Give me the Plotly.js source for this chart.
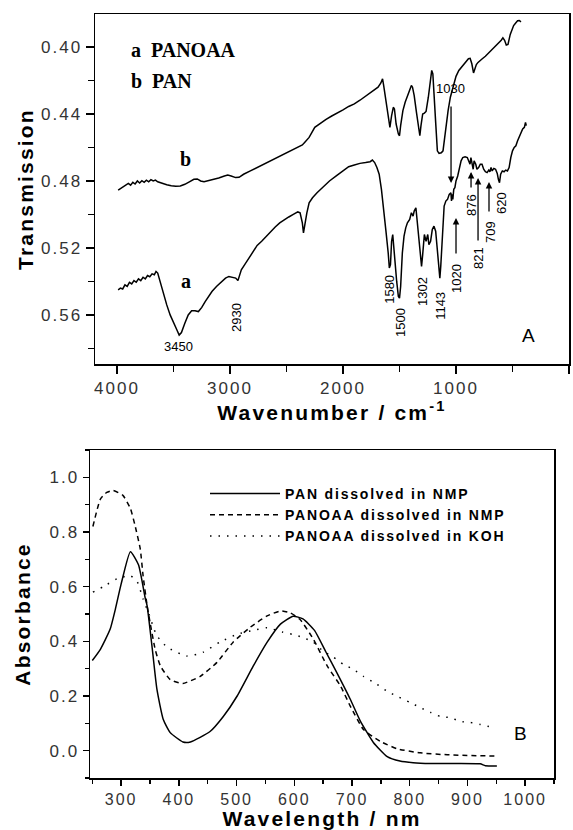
<!DOCTYPE html>
<html>
<head>
<meta charset="utf-8">
<script src="https://cdn.plot.ly/plotly-3.0.1.min.js"></script>
<style>
html,body{margin:0;padding:0;background:#fff;}
#chart{width:573px;height:830px;}
.js-plotly-plot .plotly text.xtitle, .js-plotly-plot .plotly text.x2title,
.js-plotly-plot .plotly text.ytitle, .js-plotly-plot .plotly text.y2title {letter-spacing:2.2px !important;}
.js-plotly-plot .plotly text.ytitle {translate:-5px 0;}
.js-plotly-plot .plotly text.y2title {translate:-15px 0;}
.js-plotly-plot .plotly g.xtick text, .js-plotly-plot .plotly g.ytick text,
.js-plotly-plot .plotly g.x2tick text, .js-plotly-plot .plotly g.y2tick text {letter-spacing:2px !important;}
.js-plotly-plot .plotly .legend text.legendtext {letter-spacing:1.8px !important;}
.js-plotly-plot .plotly .legend .scrollbox {clip-path:none !important;}
</style>
</head>
<body>
<div id="chart"></div>
<script>
// ---------- Panel A: FTIR (wavenumber cm-1, transmission) ----------
const panWn = [3990,3960,3930,3900,3880,3860,3840,3820,3800,3780,3760,3740,3720,3700,3680,3660,3640,3600,3560,3520,3480,3440,3400,3360,3320,3290,3260,3230,3200,3150,3100,3050,3020,2990,2950,2920,2880,2820,2760,2700,2640,2580,2520,2460,2400,2360,2340,2300,2250,2200,2150,2100,2050,2000,1950,1900,1850,1800,1760,1720,1690,1665,1650,1640,1620,1600,1585,1570,1555,1545,1530,1510,1500,1490,1470,1450,1420,1395,1385,1370,1350,1330,1320,1310,1295,1280,1265,1245,1230,1215,1205,1195,1180,1165,1150,1130,1115,1100,1085,1070,1050,1030,1000,975,950,930,910,890,875,860,845,832,820,805,790,770,740,710,680,660,640,620,600,585,570,555,540,520,505,490,470,455,440,425];
const panT  = [0.4855,0.4840,0.4830,0.4815,0.4825,0.4808,0.4818,0.4800,0.4812,0.4798,0.4808,0.4795,0.4805,0.4792,0.4800,0.4795,0.4805,0.4815,0.4822,0.4828,0.4832,0.4830,0.4820,0.4805,0.4790,0.4788,0.4800,0.4805,0.4800,0.4790,0.4782,0.4770,0.4765,0.4770,0.4780,0.4778,0.4760,0.4740,0.4720,0.4700,0.4680,0.4662,0.4640,0.4620,0.4600,0.4585,0.4570,0.4540,0.4480,0.4455,0.4432,0.4412,0.4395,0.4375,0.4355,0.4340,0.4318,0.4295,0.4275,0.4255,0.4240,0.4215,0.4190,0.4230,0.4330,0.4420,0.4480,0.4410,0.4360,0.4370,0.4460,0.4520,0.4530,0.4470,0.4380,0.4330,0.4280,0.4230,0.4240,0.4290,0.4390,0.4490,0.4530,0.4470,0.4400,0.4395,0.4385,0.4300,0.4200,0.4140,0.4160,0.4300,0.4450,0.4620,0.4635,0.4632,0.4620,0.4540,0.4450,0.4380,0.4300,0.4245,0.4175,0.4140,0.4120,0.4100,0.4088,0.4070,0.4068,0.4100,0.4155,0.4130,0.4105,0.4092,0.4085,0.4072,0.4055,0.4035,0.4015,0.4003,0.3992,0.3975,0.3960,0.3945,0.3960,0.3988,0.3985,0.3925,0.3893,0.3872,0.3855,0.3843,0.3842,0.3850];

const panoaaWn = [3990,3970,3950,3930,3910,3890,3870,3850,3830,3810,3790,3770,3750,3730,3710,3690,3670,3655,3640,3620,3590,3560,3530,3500,3470,3450,3430,3400,3370,3340,3310,3280,3250,3220,3190,3160,3120,3080,3040,3010,2980,2950,2930,2915,2900,2870,2840,2800,2760,2720,2680,2640,2600,2560,2520,2480,2440,2400,2380,2360,2350,2340,2320,2300,2270,2230,2180,2120,2060,2000,1950,1900,1850,1800,1760,1740,1720,1700,1680,1660,1640,1620,1600,1590,1580,1570,1560,1550,1540,1525,1510,1500,1490,1475,1460,1445,1430,1410,1395,1380,1370,1355,1340,1320,1305,1295,1280,1265,1250,1240,1225,1210,1195,1180,1165,1150,1143,1135,1120,1105,1090,1075,1060,1045,1040,1035,1028,1020,1010,1000,985,970,955,940,920,900,885,876,868,858,848,840,825,815,800,785,770,755,740,725,710,700,690,680,665,650,635,625,615,605,590,575,560,545,530,515,500,485,470,455,440,425,410,395,385,378];
const panoaaT  = [0.5450,0.5440,0.5445,0.5420,0.5430,0.5405,0.5415,0.5395,0.5405,0.5385,0.5395,0.5375,0.5385,0.5365,0.5372,0.5355,0.5360,0.5340,0.5350,0.5400,0.5470,0.5540,0.5600,0.5650,0.5690,0.5720,0.5705,0.5650,0.5600,0.5575,0.5575,0.5580,0.5555,0.5520,0.5490,0.5460,0.5430,0.5405,0.5380,0.5370,0.5375,0.5380,0.5395,0.5360,0.5330,0.5300,0.5270,0.5230,0.5185,0.5160,0.5130,0.5100,0.5075,0.5050,0.5030,0.5015,0.5000,0.4985,0.4990,0.5050,0.5110,0.5060,0.4990,0.4930,0.4900,0.4870,0.4840,0.4800,0.4770,0.4740,0.4715,0.4705,0.4695,0.4690,0.4685,0.4675,0.4690,0.4720,0.4760,0.4850,0.4960,0.5100,0.5230,0.5320,0.5300,0.5160,0.5120,0.5180,0.5280,0.5400,0.5490,0.5500,0.5430,0.5230,0.5130,0.5080,0.5050,0.5030,0.4990,0.5010,0.4980,0.4960,0.5080,0.5240,0.5310,0.5240,0.5120,0.5160,0.5120,0.5180,0.5160,0.5090,0.5070,0.5100,0.5230,0.5350,0.5380,0.5310,0.5100,0.4950,0.4920,0.4910,0.4880,0.4870,0.4920,0.4880,0.4910,0.4850,0.4840,0.4800,0.4770,0.4720,0.4680,0.4660,0.4655,0.4660,0.4680,0.4700,0.4660,0.4690,0.4730,0.4680,0.4700,0.4730,0.4720,0.4700,0.4700,0.4730,0.4745,0.4750,0.4735,0.4745,0.4720,0.4740,0.4725,0.4730,0.4755,0.4790,0.4810,0.4760,0.4740,0.4745,0.4735,0.4740,0.4720,0.4660,0.4620,0.4600,0.4590,0.4560,0.4540,0.4510,0.4490,0.4480,0.4450,0.4470];

const bandLabels = [
  {wn:3460, t:0.579,  text:'3450', rot:0},
  {wn:2938, t:0.5618, text:'2930', rot:-90},
  {wn:1584, t:0.545,  text:'1580', rot:-90},
  {wn:1487, t:0.5642, text:'1500', rot:-90},
  {wn:1292, t:0.5463, text:'1302', rot:-90},
  {wn:1133, t:0.5546, text:'1143', rot:-90},
  {wn:991,  t:0.5385, text:'1020', rot:-90},
  {wn:805,  t:0.526,  text:'821',  rot:-90},
  {wn:858,  t:0.4943, text:'876',  rot:-90},
  {wn:699,  t:0.5105, text:'709',  rot:-90},
  {wn:593,  t:0.4931, text:'620',  rot:-90},
  {wn:1050, t:0.425,  text:'1030', rot:0}
];
// arrow heads (wavenumber, transmission) with tail offsets in px
const bandArrows = [
  {wn:1044, t:0.4812, ay:-78},
  {wn:1000, t:0.5021, ay:37},
  {wn:867,  t:0.4746, ay:17},
  {wn:805,  t:0.4782, ay:64},
  {wn:708,  t:0.4806, ay:31}
];

// ---------- Panel B: UV-vis (wavelength nm, absorbance) ----------
const panNmpNm = [250,264,281,290,300,316,330,342,345,354,362,373,385,407,420,454,477,501,529,553,576,598,615,635,655,675,697,714,737,761,783,806,836,922,931,951];
const panNmpA  = [0.330,0.371,0.445,0.518,0.610,0.728,0.680,0.555,0.530,0.371,0.224,0.114,0.066,0.032,0.032,0.070,0.125,0.200,0.310,0.397,0.463,0.492,0.482,0.440,0.360,0.280,0.188,0.110,0.030,-0.022,-0.038,-0.044,-0.047,-0.048,-0.055,-0.056];

const panoaaNmpNm = [251,264,275,286,303,316,324,333,338,345,350,359,368,385,407,437,466,494,524,553,576,593,610,633,657,680,697,720,749,778,818,865,951];
const panoaaNmpA  = [0.820,0.920,0.945,0.952,0.934,0.886,0.824,0.739,0.640,0.530,0.470,0.370,0.310,0.260,0.246,0.272,0.323,0.397,0.452,0.493,0.511,0.504,0.480,0.408,0.310,0.237,0.163,0.077,0.034,0.007,-0.008,-0.015,-0.020];

const panoaaKohNm = [251,269,293,316,328,338,350,355,362,380,414,442,471,501,529,553,579,596,614,633,650,668,685,702,720,743,761,778,801,818,836,853,870,888,905,922,943];
const panoaaKohA  = [0.580,0.600,0.629,0.640,0.617,0.555,0.490,0.456,0.420,0.378,0.346,0.360,0.397,0.426,0.440,0.450,0.434,0.426,0.415,0.397,0.364,0.342,0.316,0.298,0.272,0.243,0.217,0.199,0.176,0.158,0.140,0.125,0.121,0.107,0.103,0.096,0.085];

const seriesNamesB = ['PAN dissolved in NMP','PANOAA dissolved in NMP','PANOAA dissolved in KOH'];

const W = 573, H = 830;
const px = v => v / W, py = v => 1 - v / H;

const traces = [
  {x: panWn, y: panT, xaxis:'x', yaxis:'y', mode:'lines', line:{color:'#000', width:1.5}, showlegend:false, hoverinfo:'skip'},
  {x: panoaaWn, y: panoaaT, xaxis:'x', yaxis:'y', mode:'lines', line:{color:'#000', width:1.5}, showlegend:false, hoverinfo:'skip'},
  {x: panNmpNm, y: panNmpA, xaxis:'x2', yaxis:'y2', mode:'lines', name: seriesNamesB[0], line:{color:'#000', width:1.5, shape:'spline', smoothing:0.5}},
  {x: panoaaNmpNm, y: panoaaNmpA, xaxis:'x2', yaxis:'y2', mode:'lines', name: seriesNamesB[1], line:{color:'#000', width:1.5, dash:'5px,4px', shape:'spline', smoothing:0.5}},
  {x: panoaaKohNm, y: panoaaKohA, xaxis:'x2', yaxis:'y2', mode:'lines', name: seriesNamesB[2], line:{color:'#000', width:1.5, dash:'1.5px,7px', shape:'spline', smoothing:0.5}}
];

const tickFont = {family:'Liberation Sans, Arial, sans-serif', size:17, color:'#333'};
const titleFont = {family:'Liberation Sans, Arial, sans-serif', size:21, color:'#000', weight:'bold'};

const axisCommon = {
  showline:true, mirror:true, linecolor:'#000', linewidth:1.5,
  ticks:'outside', tickcolor:'#000', tickwidth:1.5, showgrid:false, zeroline:false,
  tickfont: tickFont
};

const annotations = [];
bandLabels.forEach(b => annotations.push({
  xref:'x', yref:'y', x:b.wn, y:b.t, text:b.text, textangle:b.rot, showarrow:false,
  font:{family:'Liberation Sans, Arial, sans-serif', size:13, color:'#000'}
}));
bandArrows.forEach(a => annotations.push({
  xref:'x', yref:'y', x:a.wn, y:a.t, text:'', showarrow:true, ax:0, ay:a.ay,
  arrowhead:2, arrowsize:1, arrowwidth:1.3, arrowcolor:'#000'
}));
const serif = {family:'Liberation Serif, Times New Roman, serif', size:20, color:'#000', weight:'bold'};
annotations.push(
  {xref:'paper', yref:'paper', x:px(129), y:py(50), xanchor:'left', yanchor:'middle', text:'a&nbsp;&nbsp;PANOAA', showarrow:false, font:serif},
  {xref:'paper', yref:'paper', x:px(129), y:py(81), xanchor:'left', yanchor:'middle', text:'b&nbsp;&nbsp;PAN', showarrow:false, font:serif},
  {xref:'x', yref:'y', x:3398, y:0.4669, text:'b', showarrow:false, font:serif},
  {xref:'x', yref:'y', x:3390, y:0.5395, text:'a', showarrow:false, font:serif},
  {xref:'paper', yref:'paper', x:px(537), y:py(335), text:'A', showarrow:false, font:{family:'Liberation Sans, Arial, sans-serif', size:19, color:'#000'}},
  {xref:'paper', yref:'paper', x:px(529), y:py(746), text:'B', showarrow:false, font:{family:'Liberation Sans, Arial, sans-serif', size:19, color:'#000'}}
);

const layout = {
  width: W, height: H,
  margin:{l:0, r:0, t:0, b:0},
  paper_bgcolor:'#fff', plot_bgcolor:'#fff',
  font:{family:'Liberation Sans, Arial, sans-serif', color:'#000'},
  xaxis: Object.assign({}, axisCommon, {
    domain:[px(95), px(569)], anchor:'y', range:[4195, 0],
    tick0:0, dtick:1000, ticklen:8, minor:{ticks:'outside', dtick:500, ticklen:6, tickcolor:'#000', tickwidth:1.5},
    title:{text:'Wavenumber / cm<sup>-1</sup>', font:titleFont, standoff:8}
  }),
  yaxis: Object.assign({}, axisCommon, {
    domain:[py(364), py(14)], anchor:'x', range:[0.5893, 0.3803],
    tick0:0.40, dtick:0.04, tickformat:'.2f', ticklen:8,
    minor:{ticks:'outside', dtick:0.02, ticklen:6, tickcolor:'#000', tickwidth:1.5},
    title:{text:'Transmission', font:titleFont, standoff:4}
  }),
  xaxis2: Object.assign({}, axisCommon, {
    domain:[px(90), px(554)], anchor:'y2', range:[246, 1050],
    tick0:0, dtick:100, ticklen:6,
    tickfont: Object.assign({}, tickFont, {size:16}),
    minor:{ticks:'outside', dtick:50, ticklen:4, tickcolor:'#000', tickwidth:1.5},
    title:{text:'Wavelength / nm', font:titleFont, standoff:2}
  }),
  yaxis2: Object.assign({}, axisCommon, {
    domain:[py(778), py(450)], anchor:'x2', range:[-0.1, 1.1],
    tick0:0, dtick:0.2, tickformat:'.1f', ticklen:6,
    minor:{ticks:'outside', dtick:0.1, ticklen:4, tickcolor:'#000', tickwidth:1.5},
    title:{text:'Absorbance', font:titleFont, standoff:4}
  }),
  showlegend:true,
  legend:{
    x:px(205), y:py(478), xanchor:'left', yanchor:'top',
    bgcolor:'rgba(0,0,0,0)', borderwidth:0, itemwidth:70, tracegroupgap:0,
    font:{family:'Liberation Sans, Arial, sans-serif', size:14, color:'#000', weight:'bold'}
  },
  annotations: annotations
};

Plotly.newPlot('chart', traces, layout, {staticPlot:true, displayModeBar:false});
</script>
</body>
</html>
